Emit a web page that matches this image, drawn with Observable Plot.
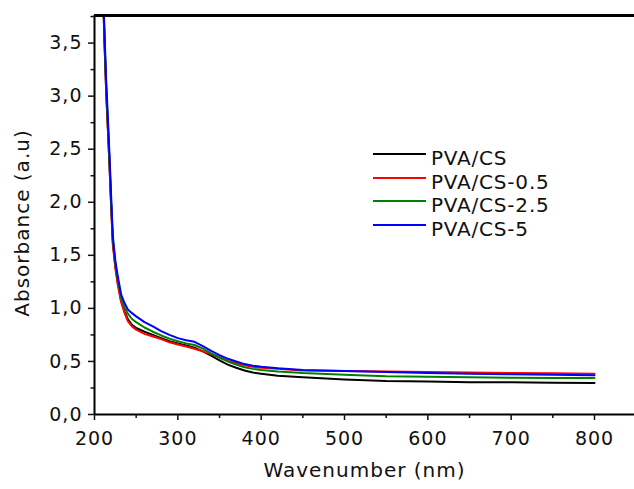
<!DOCTYPE html>
<html>
<head>
<meta charset="utf-8">
<script src="https://cdn.jsdelivr.net/npm/d3@7"></script>
<script src="https://cdn.jsdelivr.net/npm/@observablehq/plot@0.6"></script>
<style>
  body { margin: 0; background: #fff; }
  #wrap { position: relative; width: 634px; height: 489px; overflow: hidden; }
  .lg-line { position: absolute; height: 2px; }
  .lg-text { position: absolute; font-family: "DejaVu Sans", sans-serif; font-size: 20px; line-height: 24px; letter-spacing: 0.8px; color: #111; white-space: nowrap; }
</style>
</head>
<body>
<div id="wrap"></div>
<script>
// ---- data ----
const wavelength = [210, 212, 214, 216, 218, 220, 222, 225, 228, 232, 236, 240, 245, 250, 260, 270, 280, 290, 300, 310, 320, 330, 340, 350, 360, 370, 380, 390, 400, 420, 450, 500, 550, 600, 650, 700, 750, 800];
const seriesNames = ["PVA/CS", "PVA/CS-0.5", "PVA/CS-2.5", "PVA/CS-5"];
const seriesColors = ["#000000", "#ff0000", "#008000", "#0000ff"];
const absPVACS = [4.05, 3.5, 3.05, 2.7, 2.35, 1.97, 1.62, 1.4, 1.24, 1.07, 0.97, 0.9, 0.845, 0.815, 0.78, 0.75, 0.72, 0.69, 0.67, 0.65, 0.63, 0.595, 0.555, 0.51, 0.47, 0.44, 0.415, 0.395, 0.385, 0.365, 0.35, 0.33, 0.315, 0.31, 0.305, 0.303, 0.3, 0.298];
const absPVACS05 = [4.05, 3.5, 3.05, 2.7, 2.35, 1.95, 1.6, 1.38, 1.22, 1.06, 0.96, 0.88, 0.83, 0.8, 0.76, 0.735, 0.71, 0.68, 0.66, 0.64, 0.62, 0.595, 0.57, 0.54, 0.505, 0.485, 0.465, 0.45, 0.44, 0.43, 0.415, 0.41, 0.405, 0.4, 0.395, 0.39, 0.388, 0.385];
const absPVACS25 = [4.08, 3.55, 3.1, 2.75, 2.4, 2.0, 1.65, 1.42, 1.27, 1.1, 1.01, 0.95, 0.9, 0.87, 0.82, 0.78, 0.745, 0.715, 0.69, 0.67, 0.655, 0.62, 0.575, 0.535, 0.5, 0.47, 0.445, 0.43, 0.42, 0.405, 0.39, 0.375, 0.36, 0.355, 0.35, 0.347, 0.345, 0.343];
const absPVACS5 = [4.1, 3.6, 3.15, 2.8, 2.45, 2.05, 1.68, 1.45, 1.3, 1.13, 1.05, 0.99, 0.955, 0.925, 0.87, 0.83, 0.785, 0.75, 0.72, 0.7, 0.685, 0.645, 0.6, 0.56, 0.525, 0.5, 0.475, 0.46, 0.45, 0.435, 0.42, 0.41, 0.4, 0.39, 0.385, 0.38, 0.375, 0.37];
const xTicks = [200, 300, 400, 500, 600, 700, 800];
const xMinorTicks = [250, 350, 450, 550, 650, 750];
const yTicks = [0, 0.5, 1.0, 1.5, 2.0, 2.5, 3.0, 3.5];
const yMinorTicks = [0.25, 0.75, 1.25, 1.75, 2.25, 2.75, 3.25, 3.75];
const xDomain = [200, 848];
const yDomain = [0, 3.76];

// ---- build ----
const allValues = [absPVACS, absPVACS05, absPVACS25, absPVACS5];
const rows = seriesNames.flatMap((s, k) => wavelength.map((w, i) => ({series: s, wl: w, abs: allValues[k][i]})));
const fmt = d => d.toFixed(1).replace(".", ",");

const chart = Plot.plot({
  width: 634,
  height: 489,
  marginLeft: 94,
  marginRight: 0,
  marginTop: 15,
  marginBottom: 75,
  style: {fontFamily: "DejaVu Sans, sans-serif", letterSpacing: "1px", color: "#111", background: "#fff"},
  x: {domain: xDomain, label: null},
  y: {domain: yDomain, label: null},
  color: {domain: seriesNames, range: seriesColors},
  marks: [
    Plot.line(rows, {x: "wl", y: "abs", z: "series", stroke: "series", strokeWidth: 2, clip: true}),
    Plot.ruleX([xDomain[0]], {stroke: "#000", strokeWidth: 2}),
    Plot.ruleY([yDomain[0]], {stroke: "#000", strokeWidth: 2}),
    Plot.ruleY([yDomain[1]], {stroke: "#000", strokeWidth: 3}),
    Plot.axisY({ticks: yTicks, tickFormat: fmt, tickSize: 6, tickPadding: 6, fontSize: 19, strokeWidth: 1.5, label: null}),
    Plot.axisY({ticks: yMinorTicks, tickFormat: () => "", tickSize: 3.5, strokeWidth: 1.5, label: null}),
    Plot.axisX({ticks: xTicks, tickFormat: d => String(d), tickSize: 6, tickPadding: 11, fontSize: 19, strokeWidth: 1.5, label: null}),
    Plot.axisX({ticks: xMinorTicks, tickFormat: () => "", tickSize: 4, strokeWidth: 1.5, label: null}),
    Plot.text(["Wavenumber (nm)"], {frameAnchor: "bottom", dy: 62, fontSize: 20}),
    Plot.text(["Absorbance (a.u)"], {frameAnchor: "left", textAnchor: "middle", rotate: -90, dx: -72, dy: 8, fontSize: 20})
  ]
});

const wrap = document.getElementById("wrap");
wrap.appendChild(chart);

// legend (HTML overlay)
seriesNames.forEach((name, i) => {
  const line = document.createElement("div");
  line.className = "lg-line";
  line.style.left = "373px";
  line.style.width = "53px";
  line.style.top = (153.3 + 23.5 * i) + "px";
  line.style.background = seriesColors[i];
  wrap.appendChild(line);
  const t = document.createElement("div");
  t.className = "lg-text";
  t.style.left = "431px";
  t.style.top = (146.2 + 23.5 * i) + "px";
  t.textContent = name;
  wrap.appendChild(t);
});
</script>
</body>
</html>
